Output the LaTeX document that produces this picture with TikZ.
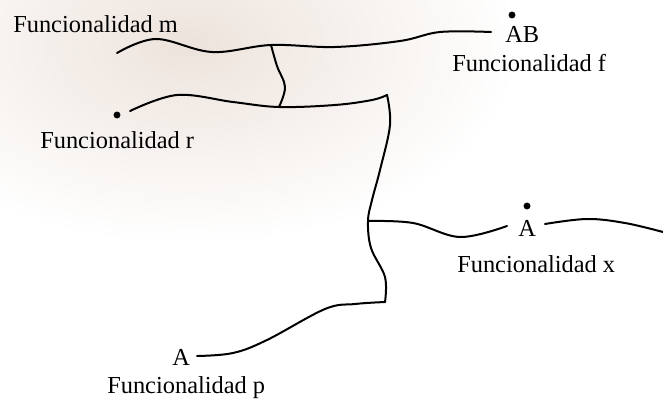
\documentclass[tikz,border=0pt]{standalone}
\usepackage{fontspec}
\setmainfont{Liberation Serif}
\usepackage{tikz}
\definecolor{ink}{HTML}{000000}
\definecolor{wmark}{HTML}{EDE3DC}

\begin{document}
\begin{tikzpicture}[x=0.75pt,y=-0.75pt,
  lbl/.style={inner sep=0pt,anchor=base west,text=ink,
              font=\fontsize{18.3}{22}\selectfont},
  dot/.style={circle,fill=ink,inner sep=0pt,minimum size=5.2pt},
  wire/.style={ink,line width=1.5pt,line cap=round}
]
\useasboundingbox (0,0) rectangle (663,399);
% faint picture behind the upper left part
\shade[inner color=wmark,outer color=white] (190,45) ellipse (330 and 200);

% labels
\node[lbl] (fm) at (13,33) {Funcionalidad m};
\node[lbl] (fr) at (40,148) {Funcionalidad r};
\node[lbl] (ab) at (505,43) {AB};
\node[lbl] (ff) at (452,72) {Funcionalidad f};
\node[lbl] (ax) at (518,236) {A};
\node[lbl] (fx) at (457,272) {Funcionalidad x};
\node[lbl] (ap) at (172,365) {A};
\node[lbl] (fp) at (107,393) {Funcionalidad p};
\node[dot] (dr) at (117,115) {};
\node[dot] (dab) at (512,15) {};
\node[dot] (dax) at (527,206) {};

% points of the curves
\coordinate (m0) at (117,53);  \coordinate (m1) at (156,39);
\coordinate (m2) at (212,52);  \coordinate (j1) at (271,45);
\coordinate (m3) at (335,47);  \coordinate (m4) at (400,41);
\coordinate (m5) at (440,32);  \coordinate (m6) at (491,32);
\coordinate (r0) at (130,111); \coordinate (r1) at (177,95);
\coordinate (r2) at (233,102); \coordinate (j2) at (279,107);
\coordinate (r3) at (335,105); \coordinate (r4) at (372,100);
\coordinate (k) at (387,95);
\coordinate (l1) at (277,66);  \coordinate (l2) at (285,87);
\coordinate (v1) at (390,125); \coordinate (v2) at (380,170);
\coordinate (v3) at (372,200); \coordinate (j3) at (368,221);
\coordinate (v4) at (371,248); \coordinate (v5) at (385,277);
\coordinate (c) at (385,302);
\coordinate (p1) at (355,304); \coordinate (p2) at (325,309);
\coordinate (p3) at (267,340); \coordinate (p4) at (233,353);
\coordinate (p5) at (197,356);
\coordinate (x1) at (413,223); \coordinate (x2) at (460,237);
\coordinate (x3) at (507,226);
\coordinate (x4) at (545,224); \coordinate (x5) at (587,219);
\coordinate (x6) at (625,223); \coordinate (x7) at (663,232);

% curves
\draw[wire] plot[smooth,tension=0.6] coordinates {(m0) (m1) (m2) (j1) (m3) (m4) (m5) (m6)};
\draw[wire] plot[smooth,tension=0.6] coordinates {(r0) (r1) (r2) (j2) (r3) (r4) (k)};
\draw[wire] plot[smooth,tension=0.6] coordinates {(j1) (l1) (l2) (j2)};
\draw[wire] plot[smooth,tension=0.6] coordinates {(k) (v1) (v2) (v3) (j3) (v4) (v5) (c)};
\draw[wire] plot[smooth,tension=0.6] coordinates {(c) (p1) (p2) (p3) (p4) (p5)};
\draw[wire] plot[smooth,tension=0.6] coordinates {(j3) (x1) (x2) (x3)};
\draw[wire] plot[smooth,tension=0.6] coordinates {(x4) (x5) (x6) (x7)};
\end{tikzpicture}
\end{document}
